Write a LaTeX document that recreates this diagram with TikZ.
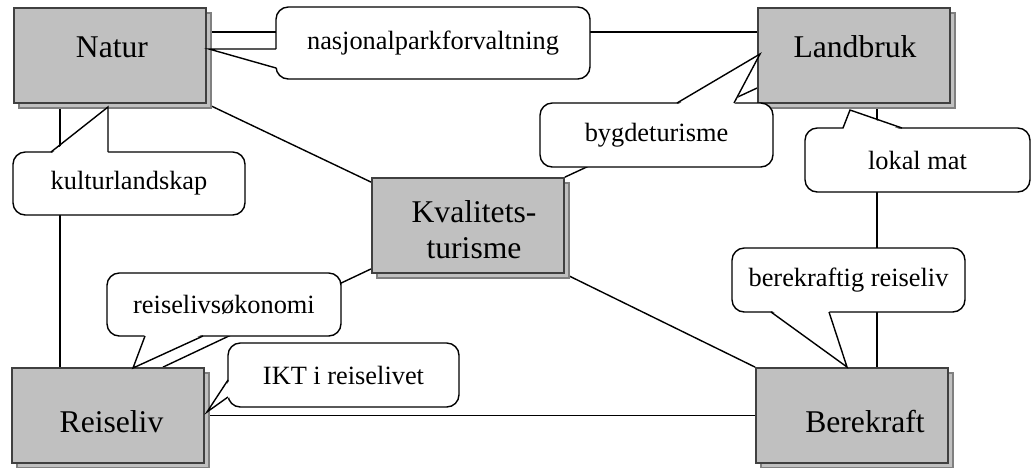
\documentclass[tikz,border=0pt]{standalone}
\usepackage{fontspec}
\setmainfont{Liberation Serif}
\usetikzlibrary{shadows,backgrounds}
\definecolor{boxfill}{HTML}{C0C0C0}
\definecolor{boxline}{HTML}{404040}
\definecolor{shadowline}{HTML}{808080}

\begin{document}
\begin{tikzpicture}[
    box/.style={rectangle, draw=boxline, line width=1pt, fill=boxfill,
        minimum width=3.84cm, minimum height=1.9cm, inner sep=0pt,
        copy shadow={shadow xshift=0.1cm, shadow yshift=-0.1cm, draw=shadowline}},
    boxtext/.style={font=\fontsize{18}{20.4}\selectfont, inner sep=0pt},
    bubble/.style={rectangle, rounded corners=7pt, draw, line width=0.8pt, fill=white,
        inner sep=0pt, font=\fontsize{15}{18}\selectfont},
    link/.style={line width=0.8pt}]
    \useasboundingbox (0,0) rectangle (20.64,-9.34);
    % the five boxes
    \node[box] (Natur) at (2.20,-1.11) {};
    \node[box] (Landbruk) at (17.08,-1.11) {};
    \node[box] (Kvalitet) at (9.36,-4.51) {};
    \node[box] (Reiseliv) at (2.16,-8.31) {};
    \node[box] (Berekraft) at (17.04,-8.31) {};
    \node[boxtext, anchor=base] (tNatur) at (2.24,-1.14) {Natur};
    \node[boxtext, anchor=base] (tLandbruk) at (17.10,-1.14) {Landbruk};
    \node[boxtext, align=center] (tKvalitet) at (9.48,-4.60) {Kvalitets-\\turisme};
    \node[boxtext, anchor=base] (tReiseliv) at (2.23,-8.64) {Reiseliv};
    \node[boxtext, anchor=base] (tBerekraft) at (17.30,-8.64) {Berekraft};
    % links between the boxes
    \begin{scope}[on background layer]
        \draw[link] ([yshift=0.47cm]Natur.east) -- ([yshift=0.47cm]Landbruk.west);
        \draw[link] (Natur.south east) -- ([yshift=-0.1cm]Kvalitet.north west);
        \draw[link] ([xshift=-1cm]Natur.south) -- ([xshift=-1cm]Natur.south |- Reiseliv.north);
        \draw[link] ([yshift=-0.65cm]Landbruk.west) -- (Kvalitet.north east);
        \draw[link] ([xshift=0.46cm]Landbruk.south) -- ([xshift=0.46cm]Landbruk.south |- Berekraft.north);
        \draw[link] ([yshift=0.1cm]Kvalitet.south west) -- ([xshift=1.1cm]Reiseliv.north);
        \draw[link] (Kvalitet.south east) -- (Berekraft.north west);
        \draw[link] (Reiseliv.east) -- (Berekraft.west);
    \end{scope}
    % callouts
    \node[bubble, minimum width=6.28cm, minimum height=1.44cm] (nasjonal) at (8.66,-0.86) {nasjonalparkforvaltning};
    \fill[white] (5.56,-0.98) -- (4.18,-0.98) -- (5.56,-1.36) -- cycle;
    \draw[link] (5.52,-0.98) -- (4.18,-0.98) -- (5.52,-1.36);

    \node[bubble, minimum width=4.66cm, minimum height=1.28cm] (bygde) at (13.13,-2.70) {bygdeturisme};
    \fill[white] (13.54,-2.10) -- (15.20,-1.08) -- (14.68,-2.10) -- cycle;
    \draw[link] (13.54,-2.06) -- (15.20,-1.08) -- (14.68,-2.06);

    \node[bubble, minimum width=4.50cm, minimum height=1.28cm] (lokal) at (18.35,-3.20) {lokal mat};
    \fill[white] (16.86,-2.60) -- (17.00,-2.20) -- (18.04,-2.60) -- cycle;
    \draw[link] (16.86,-2.56) -- (17.00,-2.20) -- (18.04,-2.56);

    \node[bubble, minimum width=4.64cm, minimum height=1.26cm] (kultur) at (2.58,-3.67) {kulturlandskap};
    \fill[white] (1.02,-3.08) -- (2.16,-2.14) -- (2.16,-3.08) -- cycle;
    \draw[link] (1.02,-3.04) -- (2.16,-2.14) -- (2.16,-3.04);

    \node[bubble, minimum width=4.66cm, minimum height=1.28cm] (berreise) at (16.97,-5.60) {berekraftig reiseliv};
    \fill[white] (15.42,-6.20) -- (16.94,-7.34) -- (16.58,-6.20) -- cycle;
    \draw[link] (15.42,-6.24) -- (16.94,-7.34) -- (16.58,-6.24);

    \node[bubble, minimum width=4.68cm, minimum height=1.26cm] (okonomi) at (4.48,-6.09) {reiselivsøkonomi};
    \fill[white] (2.90,-6.68) -- (2.66,-7.36) -- (4.06,-6.68) -- cycle;
    \draw[link] (2.90,-6.72) -- (2.66,-7.36) -- (4.06,-6.72);

    \node[bubble, minimum width=4.62cm, minimum height=1.28cm] (ikt) at (6.87,-7.50) {IKT i reiselivet};
    \fill[white] (4.60,-7.60) -- (4.14,-8.24) -- (4.60,-7.94) -- cycle;
    \draw[link] (4.56,-7.60) -- (4.14,-8.24) -- (4.56,-7.94);
\end{tikzpicture}
\end{document}
